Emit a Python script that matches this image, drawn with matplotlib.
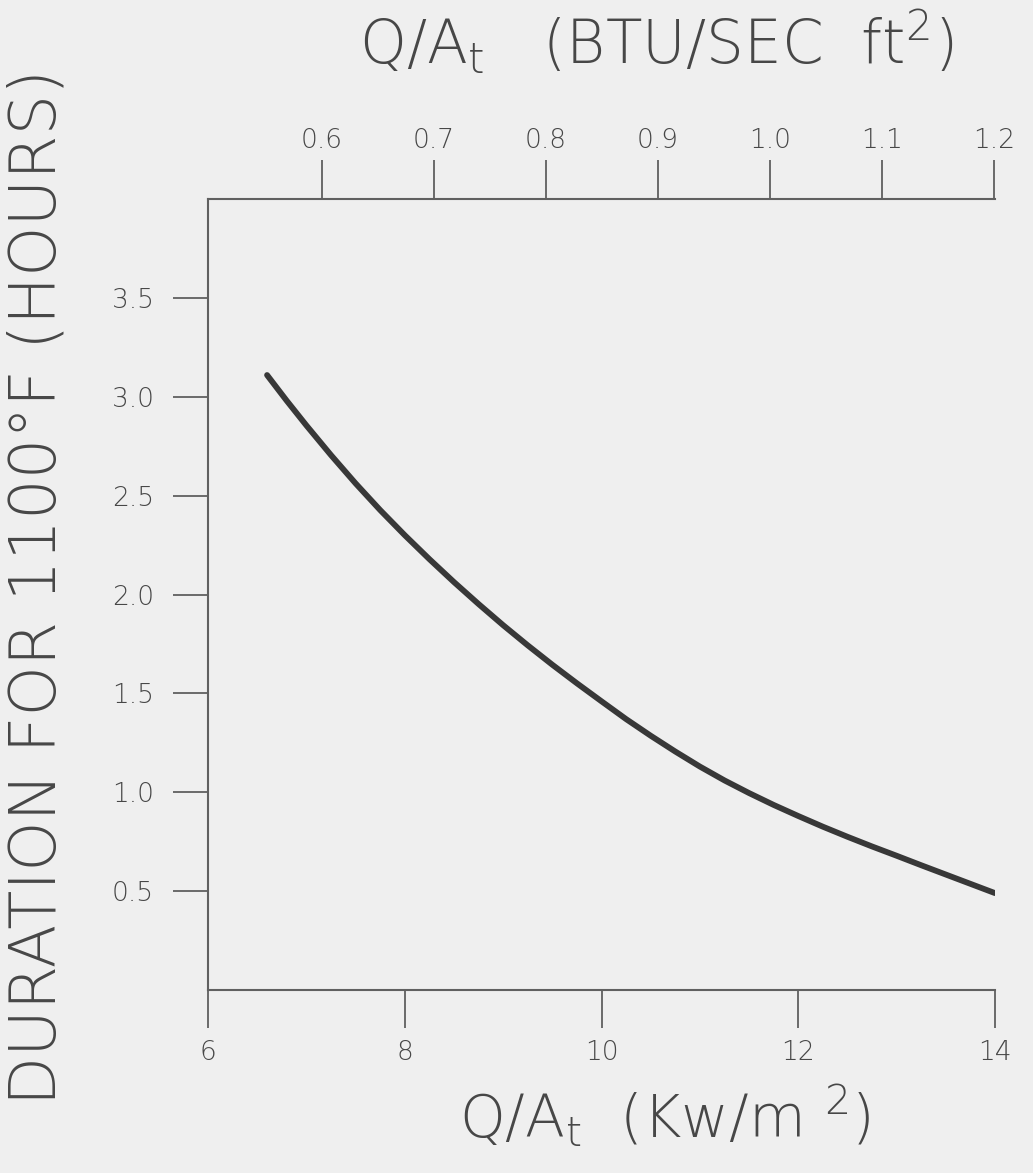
import matplotlib
matplotlib.use("Agg")
import matplotlib.pyplot as plt
from matplotlib import font_manager

# Data
heat_flux_kw = [6.6, 6.8, 7.0, 7.25, 7.5, 7.75, 8.0, 8.25, 8.5, 8.75, 9.0, 9.25, 9.5, 9.75,
                10.0, 10.25, 10.5, 10.75, 11.0, 11.25, 11.5, 11.75, 12.0, 12.25, 12.5,
                12.75, 13.0, 13.25, 13.5, 13.75, 14.0]
duration_hr = [3.11, 2.98, 2.855, 2.705, 2.562, 2.427, 2.300, 2.179, 2.063, 1.952, 1.845,
               1.743, 1.645, 1.551, 1.460, 1.370, 1.286, 1.206, 1.130, 1.060, 0.996, 0.936,
               0.880, 0.826, 0.775, 0.726, 0.679, 0.631, 0.584, 0.537, 0.490]

x_ticks = [6, 8, 10, 12, 14]
y_ticks = [0.5, 1.0, 1.5, 2.0, 2.5, 3.0, 3.5]
y_tick_labels = ["0.5", "1.0", "1.5", "2.0", "2.5", "3.0", "3.5"]
top_ticks = [0.6, 0.7, 0.8, 0.9, 1.0, 1.1, 1.2]
top_tick_labels = ["0.6", "0.7", "0.8", "0.9", "1.0", "1.1", "1.2"]

fam = 'DejaVu Sans'
weight = 'light' if any(f.name == fam and f.weight in (200, 300, 'light', 'extra-light', 'ultralight')
                        for f in font_manager.fontManager.ttflist) else 'normal'

plt.rcParams['font.family'] = [fam]
plt.rcParams['font.weight'] = weight
plt.rcParams['mathtext.fontset'] = 'custom'
plt.rcParams['mathtext.rm'] = f'{fam}:{weight}'
plt.rcParams['mathtext.it'] = f'{fam}:{weight}'

bg = '#efefef'
txt = '#474747'
axc = '#606060'

fig = plt.figure(figsize=(10.33, 11.73), dpi=100, facecolor=bg)
ax = fig.add_axes([0.2014, 0.156, 0.7618, 0.6743])
ax.set_facecolor(bg)

ax.plot(heat_flux_kw, duration_hr, color='#383838', lw=4.2, solid_capstyle='round',
        solid_joinstyle='round')

ax.set_xlim(6, 14)
ax.set_ylim(0, 4)

ax.spines['right'].set_visible(False)
for s in ['left', 'bottom', 'top']:
    ax.spines[s].set_color(axc)
    ax.spines[s].set_linewidth(1.5)

ax.set_xticks(x_ticks)
ax.set_xticklabels([str(v) for v in x_ticks])
ax.set_yticks(y_ticks)
ax.set_yticklabels(y_tick_labels)
ax.tick_params(axis='x', direction='out', length=27, width=1.3, color=axc,
               labelsize=19, labelcolor=txt, pad=9)
ax.tick_params(axis='y', direction='out', length=25, width=1.3, color=axc,
               labelsize=19, labelcolor=txt, pad=14)

A, B = 11.39, 0.323
sec = ax.secondary_xaxis('top', functions=(lambda k: (k - B) / A, lambda t: A * t + B))
sec.set_xticks(top_ticks)
sec.set_xticklabels(top_tick_labels)
sec.tick_params(axis='x', direction='out', length=28, width=1.3, color=axc,
                labelsize=19, labelcolor=txt, pad=5)
sec.spines['top'].set_visible(False)

fig.text(0.635, 0.945, r'Q/A$_\mathregular{t}$   (BTU/SEC  ft$^\mathregular{2}$)',
         fontsize=43, color=txt, ha='center', va='baseline')
fig.text(0.644, 0.030, r'Q/A$_\mathregular{t}$  (Kw/m $^\mathregular{2}$)',
         fontsize=42, color=txt, ha='center', va='baseline')
fig.text(0.037, 0.50, 'DURATION FOR 1100°F (HOURS)', rotation=90,
         fontsize=46, color=txt, ha='center', va='center')

fig.savefig('out.png', dpi=100, facecolor=bg)
